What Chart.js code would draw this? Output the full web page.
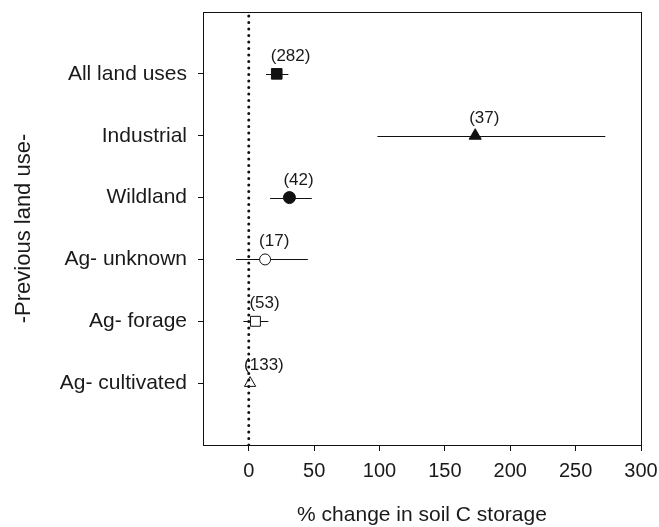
<!DOCTYPE html>
<html>
<head>
<meta charset="utf-8">
<script src="https://cdn.jsdelivr.net/npm/chart.js@4"></script>
<style>
  html, body { margin: 0; padding: 0; background: #fff; }
  #wrap { width: 659px; height: 527px; }
</style>
</head>
<body>
<div id="wrap"><canvas id="chart"></canvas></div>
<script>
// Data
const categories = ['All land uses', 'Industrial', 'Wildland', 'Ag- unknown', 'Ag- forage', 'Ag- cultivated'];
const positions = [6, 5, 4, 3, 2, 1];
const means = [21.4, 173.2, 31.1, 12.5, 5.1, 1.0];
const lower = [13.2, 98.4, 16.3, -9.7, -4.1, -0.6];
const upper = [30.3, 272.7, 48.2, 45.2, 15.0, 2.6];
const counts = ['(282)', '(37)', '(42)', '(17)', '(53)', '(133)'];
const xTicks = [0, 50, 100, 150, 200, 250, 300];

const markerStyles = ['rect', 'triangle', 'circle', 'circle', 'rect', 'triangle'];
const markerFill = ['#111', '#111', '#111', '#fff', '#fff', '#fff'];
const markerSize = [7.5, 7, 6, 5.5, 7, 6.5];

const textColor = '#1a1a1a';
const family = '"Liberation Sans", Arial, sans-serif';

// error bars, drawn under the markers
const errorBars = {
  id: 'errorBars',
  beforeDatasetsDraw(chart) {
    const { ctx, scales: { x, y } } = chart;
    ctx.save();
    ctx.strokeStyle = '#111';
    ctx.lineWidth = 1;
    positions.forEach((p, i) => {
      const py = Math.round(y.getPixelForValue(p)) + 0.5;
      ctx.beginPath();
      ctx.moveTo(x.getPixelForValue(lower[i]), py);
      ctx.lineTo(x.getPixelForValue(upper[i]), py);
      ctx.stroke();
    });
    ctx.restore();
  }
};

// n labels above each marker + frame around the plot
const labelsAndFrame = {
  id: 'labelsAndFrame',
  afterDatasetsDraw(chart) {
    const { ctx, chartArea: a, scales: { x, y } } = chart;
    ctx.save();
    ctx.fillStyle = textColor;
    ctx.font = '17px ' + family;
    ctx.textAlign = 'left';
    ctx.textBaseline = 'alphabetic';
    positions.forEach((p, i) => {
      ctx.fillText(counts[i], x.getPixelForValue(means[i]) - 6, y.getPixelForValue(p) - 13);
    });
    ctx.strokeStyle = '#111';
    ctx.lineWidth = 1;
    ctx.strokeRect(Math.round(a.left) + 0.5, Math.round(a.top) + 0.5,
      Math.round(a.right - a.left), Math.round(a.bottom - a.top));
    ctx.restore();
  }
};

new Chart(document.getElementById('chart'), {
  type: 'scatter',
  data: {
    datasets: [
      {
        type: 'line',
        data: [{ x: 0, y: 0 }, { x: 0, y: 7 }],
        borderColor: '#111',
        borderWidth: 3,
        borderDash: [0, 6.5],
        borderCapStyle: 'round',
        pointRadius: 0,
        fill: false
      },
      {
        data: positions.map((p, i) => ({ x: means[i], y: p })),
        pointStyle: markerStyles,
        pointRadius: markerSize,
        backgroundColor: markerFill,
        borderColor: '#111',
        borderWidth: 1
      }
    ]
  },
  options: {
    responsive: true,
    maintainAspectRatio: false,
    animation: false,
    layout: { padding: { top: 12, right: 18, left: 0, bottom: 0 } },
    plugins: { legend: { display: false }, tooltip: { enabled: false } },
    scales: {
      x: {
        type: 'linear',
        min: -35,
        max: 300,
        afterBuildTicks: s => { s.ticks = xTicks.map(v => ({ value: v })); },
        afterFit: s => { s.height = 82; s.paddingLeft = 0; s.paddingRight = 0; },
        grid: { drawOnChartArea: false, tickLength: 6, color: '#111' },
        border: { color: '#111' },
        ticks: { color: textColor, font: { family, size: 20 }, padding: 8, maxRotation: 0 },
        title: {
          display: true,
          text: '% change in soil C storage',
          color: textColor,
          font: { family, size: 21, lineHeight: 1 },
          padding: { top: 0, bottom: 1 }
        }
      },
      y: {
        type: 'linear',
        min: 0,
        max: 7,
        afterBuildTicks: s => { s.ticks = positions.map(v => ({ value: v })); },
        afterFit: s => { s.width = 203; s.paddingTop = 0; s.paddingBottom = 0; },
        grid: { drawOnChartArea: false, tickLength: 5, color: '#111' },
        border: { color: '#111' },
        ticks: {
          color: textColor,
          font: { family, size: 21 },
          padding: 11,
          callback: v => categories[positions.indexOf(v)]
        },
        title: {
          display: true,
          text: '-Previous land use-',
          color: textColor,
          font: { family, size: 22 },
          padding: { top: 11 }
        }
      }
    }
  },
  plugins: [errorBars, labelsAndFrame]
});
</script>
</body>
</html>
